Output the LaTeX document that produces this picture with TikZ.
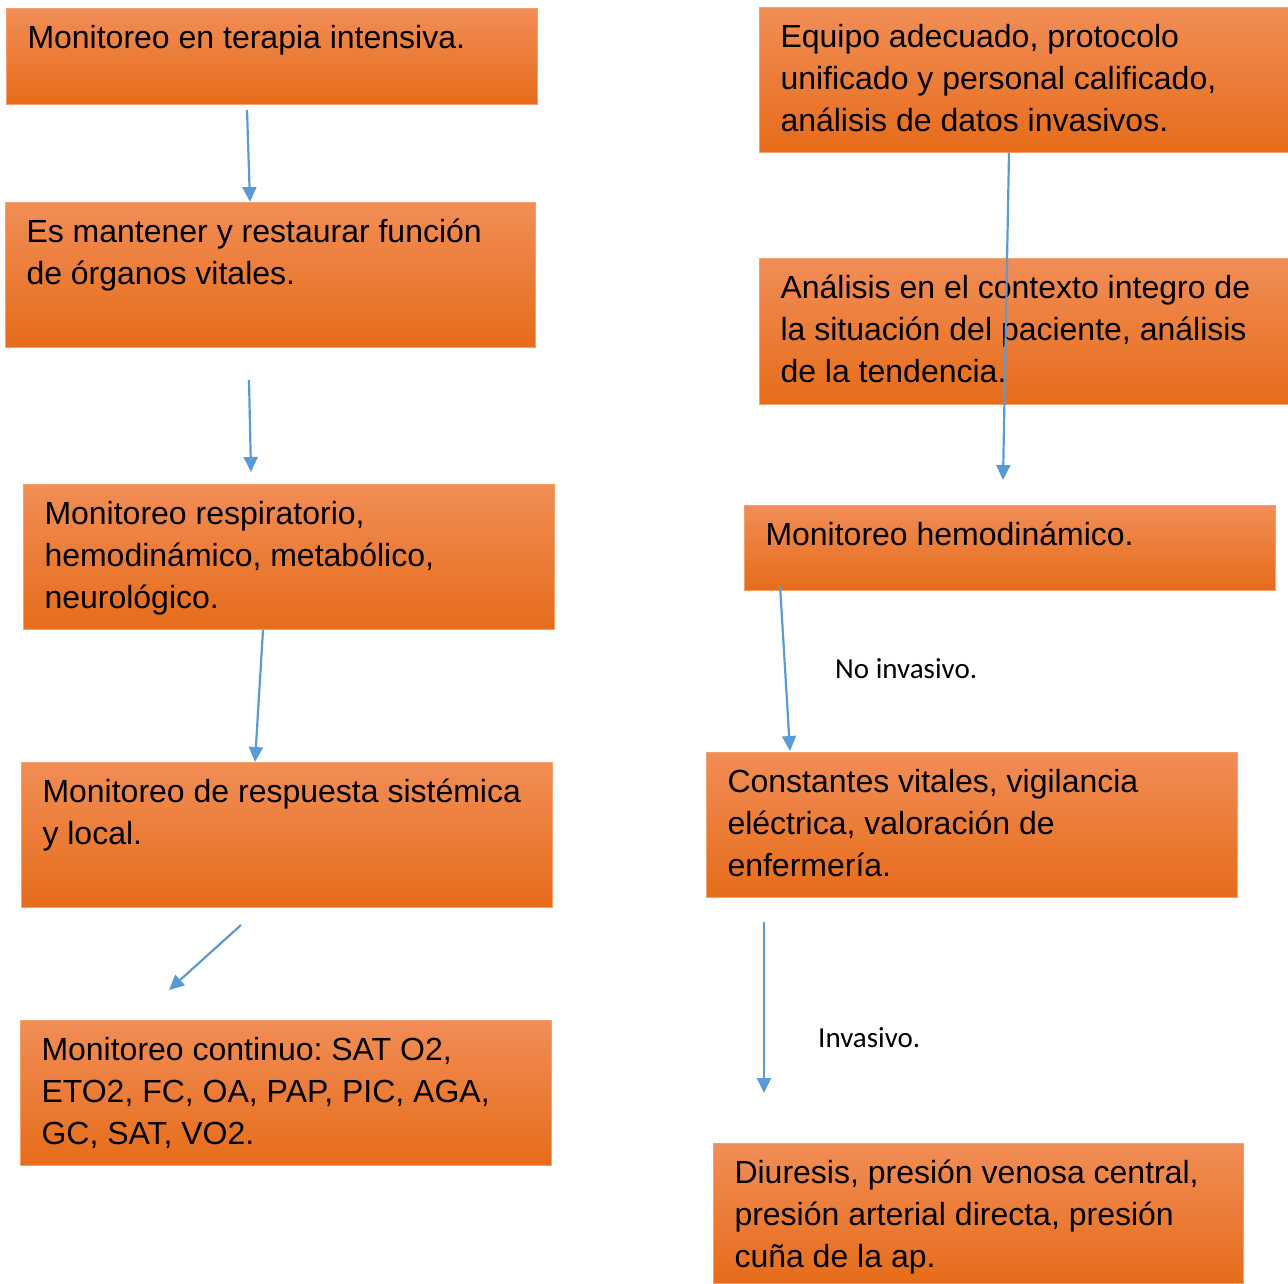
\documentclass[tikz,border=0pt]{standalone}
\usepackage{fontspec}
\setmainfont{Liberation Sans}
\newfontfamily\labelfont{Carlito}
\usetikzlibrary{arrows.meta}
\frenchspacing
\definecolor{boxtop}{RGB}{241,141,86}
\definecolor{boxmid}{RGB}{246,127,36}
\definecolor{boxbot}{RGB}{230,108,26}
\definecolor{boxedge}{RGB}{244,160,104}
\definecolor{arrowblue}{RGB}{91,155,213}
\newcommand{\boxtext}[3]{\parbox[c][#1pt][t]{#2pt}{\frenchspacing\raggedright\leftskip=21pt\fontsize{32}{42}\selectfont\rule{0pt}{40pt}#3}}
\tikzset{
  orangebox/.style={anchor=north west, inner sep=0pt, draw=boxedge, line width=1pt,
    top color=boxtop, middle color=boxmid, bottom color=boxbot},
  flowarrow/.style={draw=arrowblue, line width=2.2pt, -{Triangle[length=15pt,width=14pt]}},
  sidelabel/.style={anchor=base west, inner sep=0pt, font=\labelfont\fontsize{29}{34}\selectfont}
}
\begin{document}
\begin{tikzpicture}[x=1pt, y={(0pt,-1pt)}]
\useasboundingbox (0,0) rectangle (1288,1283);
% left column
\node[orangebox] (b1) at (6,8) {\boxtext{96}{531}{Monitoreo en terapia intensiva.}};
\node[orangebox] (b2) at (5,202) {\boxtext{145}{530}{Es mantener y restaurar función\\de órganos vitales.}};
\node[orangebox] (b3) at (23,484) {\boxtext{145}{531}{Monitoreo respiratorio,\\hemodinámico, metabólico,\\neurológico.}};
\node[orangebox] (b4) at (21,762) {\boxtext{145}{531}{Monitoreo de respuesta sistémica\\y local.}};
\node[orangebox] (b5) at (20,1020) {\boxtext{145}{531}{Monitoreo continuo: SAT O2,\\ETO2, FC, OA, PAP, PIC, AGA,\\GC, SAT, VO2.}};
% right column
\node[orangebox] (r1) at (759,7) {\boxtext{145}{529}{Equipo adecuado, protocolo\\unificado y personal calificado,\\análisis de datos invasivos.}};
\node[orangebox] (r2) at (759,258) {\boxtext{146}{529}{Análisis en el contexto integro de\\la situación del paciente, análisis\\de la tendencia.}};
\node[orangebox] (r3) at (744,505) {\boxtext{85}{531}{Monitoreo hemodinámico.}};
\node[orangebox] (r4) at (706,752) {\boxtext{145}{531}{Constantes vitales, vigilancia\\eléctrica, valoración de\\enfermería.}};
\node[orangebox] (r5) at (713,1143) {\boxtext{140}{530}{Diuresis, presión venosa central,\\presión arterial directa, presión\\cuña de la ap.}};
% labels
\node[sidelabel] (l1) at (835,678) {No invasivo.};
\node[sidelabel] (l2) at (818,1047) {Invasivo.};
% arrow end points
\coordinate (a1s) at (247,110); \coordinate (a1e) at (250,202);
\coordinate (a2s) at (249,380); \coordinate (a2e) at (251,472);
\coordinate (a3s) at (263,630); \coordinate (a3e) at (255,762);
\coordinate (a4s) at (241,925); \coordinate (a4e) at (169,990);
\coordinate (a5s) at (1009,153); \coordinate (a5e) at (1003,480);
\coordinate (a6s) at (780,585); \coordinate (a6e) at (790,751);
\coordinate (a7s) at (764,922); \coordinate (a7e) at (764,1093);
\draw[flowarrow] (a1s) -- (a1e);
\draw[flowarrow] (a2s) -- (a2e);
\draw[flowarrow] (a3s) -- (a3e);
\draw[flowarrow] (a4s) -- (a4e);
\draw[flowarrow] (a5s) -- (a5e);
\draw[flowarrow] (a6s) -- (a6e);
\draw[flowarrow] (a7s) -- (a7e);
\end{tikzpicture}
\end{document}
